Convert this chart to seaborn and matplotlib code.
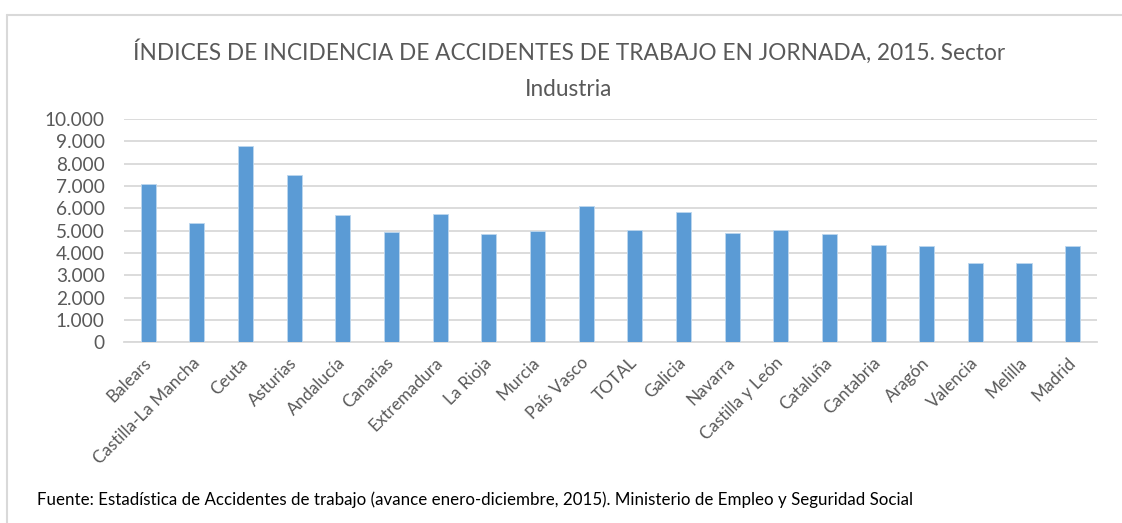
import numpy as np
import pandas as pd
import seaborn as sns
import matplotlib.pyplot as plt
from matplotlib.lines import Line2D
from matplotlib.ticker import FuncFormatter

sns.set_style("white")
plt.rcParams['font.family'] = ['Lato', 'DejaVu Sans']

# regions in the order of the chart
regiones = ["Balears", "Castilla-La Mancha", "Ceuta", "Asturias", "Andalucía",
            "Canarias", "Extremadura", "La Rioja", "Murcia", "País Vasco",
            "TOTAL", "Galicia", "Navarra", "Castilla y León", "Cataluña",
            "Cantabria", "Aragón", "Valencia", "Melilla", "Madrid"]
# incidence index
indices = [7100, 5330, 8800, 7480, 5700,
           4940, 5750, 4860, 5000, 6120,
           5020, 5840, 4890, 5030, 4840,
           4360, 4320, 3550, 3550, 4320]

titulo = "ÍNDICES DE INCIDENCIA DE ACCIDENTES DE TRABAJO EN JORNADA, 2015. Sector\nIndustria"
fuente = ("Fuente: Estadística de Accidentes de trabajo (avance enero-diciembre, 2015). "
          "Ministerio de Empleo y Seguridad Social")

df = pd.DataFrame({"region": regiones, "indice": indices})

gris = "#595959"
fig = plt.figure(figsize=(11.22, 5.23), dpi=100)
ax = fig.add_axes([0.1105, 0.3455, 0.8672, 0.427])

sns.barplot(data=df, x="region", y="indice", color="#5b9bd5", saturation=1,
            width=0.31, edgecolor="#bdd7ee", linewidth=0.6, ax=ax, zorder=3)

ax.set_ylim(0, 10000)
ax.set_xlim(-0.5, len(regiones) - 0.5)
ax.set_yticks(np.arange(0, 10001, 1000))
ax.yaxis.set_major_formatter(FuncFormatter(lambda v, p: f"{int(v):,}".replace(",", ".")))
ax.grid(axis="y", color="#d9d9d9", linewidth=1.3, zorder=0)
ax.set_axisbelow(True)
for s in ["top", "right", "left"]:
    ax.spines[s].set_visible(False)
ax.spines["bottom"].set_color("#d9d9d9")
ax.spines["bottom"].set_linewidth(1.3)
ax.set_xlabel("")
ax.set_ylabel("")
ax.tick_params(axis="both", length=0)
ax.tick_params(axis="y", labelsize=13.7, labelcolor=gris, pad=14)
plt.setp(ax.get_xticklabels(), rotation=45, ha="right", va="center",
         rotation_mode="anchor", fontsize=12.3, color=gris)
ax.tick_params(axis="x", pad=13)

fig.text(0.507, 0.867, titulo, ha="center", va="center", fontsize=16.3,
         color=gris, linespacing=1.85)
fig.text(0.033, 0.044, fuente, ha="left", va="center", fontsize=12.2, color="black")

# outer border of the chart box
bc = "#d9d9d9"
fig.add_artist(Line2D([7 / 1122, 7 / 1122], [0, 1 - 15 / 523], color=bc, lw=1.5,
                      transform=fig.transFigure))
fig.add_artist(Line2D([7 / 1122, 1], [1 - 15 / 523, 1 - 15 / 523], color=bc, lw=1.5,
                      transform=fig.transFigure))

fig.savefig("out.png", dpi=100)
